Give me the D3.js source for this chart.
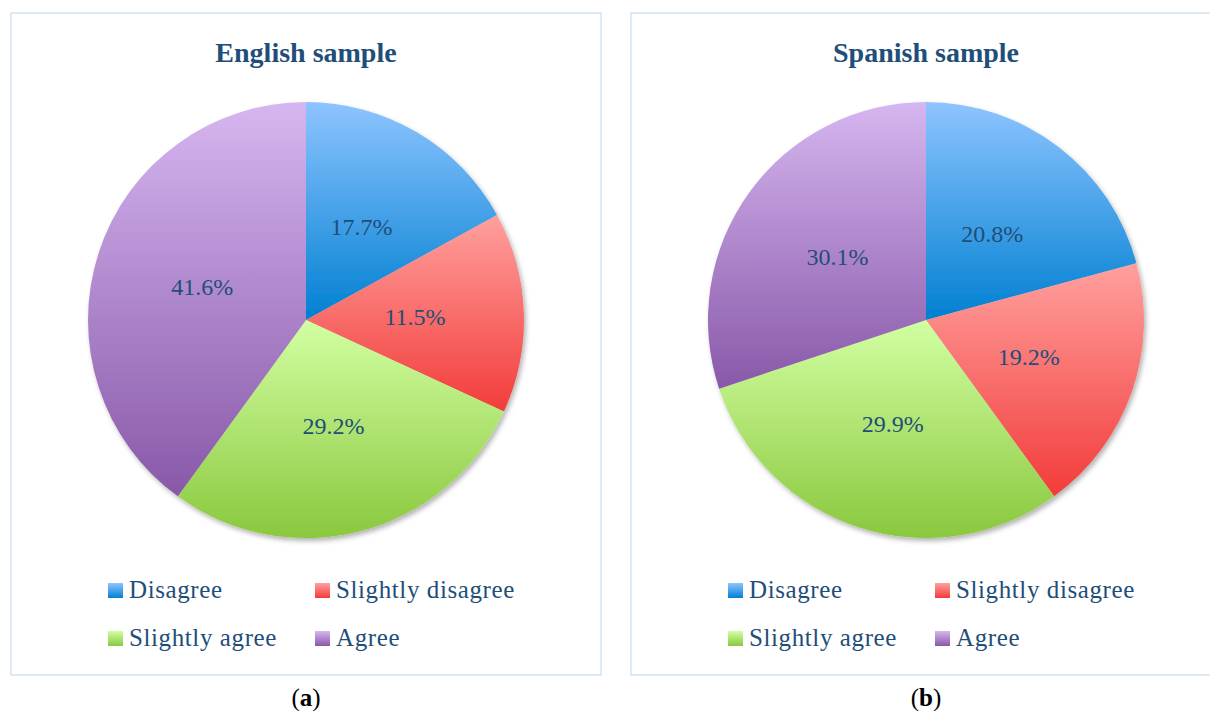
<!DOCTYPE html>
<html>
<head>
<meta charset="utf-8">
<script src="https://cdn.jsdelivr.net/npm/d3@7"></script>
<style>
  body { margin: 0; background: #fff; }
  svg { display: block; }
</style>
</head>
<body>
<svg class="chart" width="1210" height="711"></svg>
<script>
const categories = ['Disagree', 'Slightly disagree', 'Slightly agree', 'Agree'];
// slice shares as drawn in the picture (the English pie is drawn a bit off its printed labels)
const englishShares = [17.0, 14.9, 28.1, 40.0];
const spanishShares = [20.8, 19.2, 29.9, 30.1];
// printed data labels
const englishLabels = ['17.7%', '11.5%', '29.2%', '41.6%'];
const spanishLabels = ['20.8%', '19.2%', '29.9%', '30.1%'];
const panelTitles = ['English sample', 'Spanish sample'];
const panelCaptions = ['a', 'b'];

// top / bottom colour of each slice gradient
const topColors = ['#8ec4ff', '#ffa09e', '#d2ffa2', '#d6b6f0'];
const bottomColors = ['#0080d2', '#f23c3a', '#8ac83e', '#8858a8'];

const textColor = '#1f4e79';
const radius = 218;

const svg = d3.select('.chart');
const defs = svg.append('defs');

categories.forEach((c, i) => {
    const g = defs.append('linearGradient')
        .attr('id', 'grad' + i)
        .attr('x1', 0).attr('y1', 0).attr('x2', 0).attr('y2', 1);
    g.append('stop').attr('offset', '0%').attr('stop-color', topColors[i]);
    g.append('stop').attr('offset', '100%').attr('stop-color', bottomColors[i]);
});

const shadow = defs.append('filter').attr('id', 'shadow')
    .attr('x', '-10%').attr('y', '-10%').attr('width', '120%').attr('height', '120%');
shadow.append('feDropShadow')
    .attr('dx', 2).attr('dy', 3).attr('stdDeviation', 2.5)
    .attr('flood-color', '#000').attr('flood-opacity', 0.3);

const pie = d3.pie().sort(null).value(d => d);
const arc = d3.arc().innerRadius(0).outerRadius(radius);
const labelArc = d3.arc().innerRadius(radius * 0.5).outerRadius(radius * 0.5);

function renderPanel(shares, labels, title, caption, left, width)
{
    const cx = left + width / 2;
    const cy = 320;

    svg.append('rect')
        .attr('x', left)
        .attr('y', 13)
        .attr('width', width)
        .attr('height', 662)
        .attr('fill', 'none')
        .attr('stroke', '#d3e4f4')
        .attr('stroke-width', 1.5);

    svg.append('text')
        .attr('x', cx)
        .attr('y', 62)
        .attr('text-anchor', 'middle')
        .attr('font-family', 'Liberation Serif, serif')
        .attr('font-weight', 'bold')
        .attr('font-size', 28)
        .attr('fill', textColor)
        .text(title);

    const holder = svg.append('g')
        .attr('transform', `translate(${cx}, ${cy})`);

    const slices = pie(shares);

    holder.append('g')
        .attr('filter', 'url(#shadow)')
        .selectAll('path')
        .data(slices)
        .enter()
        .append('path')
        .attr('d', arc)
        .attr('fill', (d, i) => `url(#grad${i})`);

    holder.selectAll('.value')
        .data(slices)
        .enter()
        .append('text')
        .attr('class', 'value')
        .attr('transform', d => `translate(${labelArc.centroid(d)})`)
        .attr('text-anchor', 'middle')
        .attr('dy', '0.35em')
        .attr('font-family', 'Liberation Serif, serif')
        .attr('font-size', 24)
        .attr('fill', textColor)
        .text((d, i) => labels[i]);

    // legend, two columns
    const legend = holder.selectAll('.legend')
        .data(categories)
        .enter()
        .append('g')
        .attr('class', 'legend')
        .attr('transform', (d, i) => `translate(${i % 2 === 0 ? -198 : 9}, ${270 + Math.floor(i / 2) * 48})`);

    legend.append('rect')
        .attr('x', 0).attr('y', -7)
        .attr('width', 15).attr('height', 15)
        .attr('fill', (d, i) => `url(#grad${i})`);

    legend.append('text')
        .attr('x', 21)
        .attr('y', 0)
        .attr('dy', '0.33em')
        .attr('font-family', 'Liberation Serif, serif')
        .attr('font-size', 25)
        .attr('letter-spacing', 0.6)
        .attr('fill', textColor)
        .text(d => d);

    const cap = svg.append('text')
        .attr('x', cx)
        .attr('y', 706)
        .attr('text-anchor', 'middle')
        .attr('font-family', 'Liberation Serif, serif')
        .attr('font-size', 25)
        .attr('fill', '#000');
    cap.append('tspan').text('(');
    cap.append('tspan').attr('font-weight', 'bold').text(caption);
    cap.append('tspan').text(')');
}

renderPanel(englishShares, englishLabels, panelTitles[0], panelCaptions[0], 11, 590);
renderPanel(spanishShares, spanishLabels, panelTitles[1], panelCaptions[1], 631, 590);
</script>
</body>
</html>
